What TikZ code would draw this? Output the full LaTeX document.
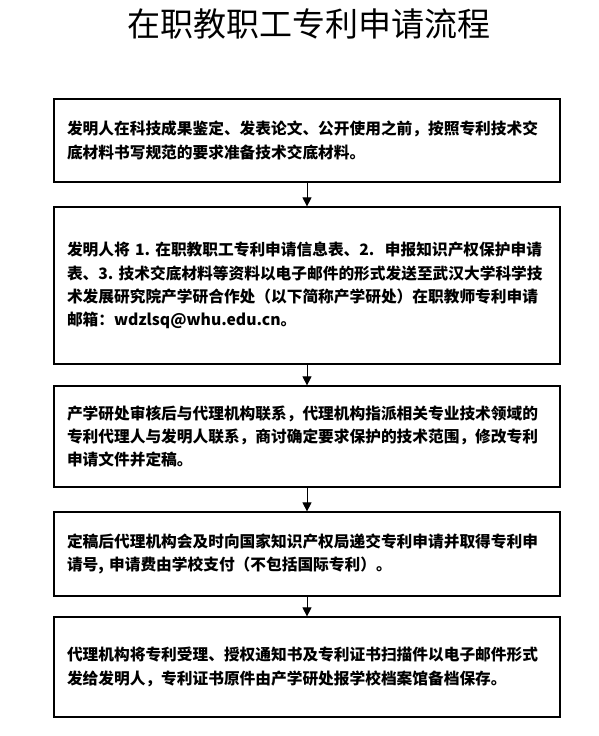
\documentclass[tikz,border=0pt]{standalone}
\usepackage{fontspec}
\newfontfamily\cjk{Noto Sans CJK SC}
\usepackage{tikz}
\usetikzlibrary{arrows.meta,positioning}

\begin{document}
\begin{tikzpicture}[x=1pt,y=-1pt,
  stepbox/.style={draw,line width=1.2pt,minimum width=506pt,inner xsep=13pt,text width=480pt,align=left,font=\cjk\bfseries\fontsize{15.7}{23.3}\selectfont},
  flowarrow/.style={-{Triangle[width=9pt,length=9pt]},line width=0.8pt}]
\useasboundingbox (0,0) rectangle (598,736);
\node[font=\cjk\fontsize{33}{33}\selectfont] (title) at (309,24) {在职教职工专利申请流程};
\node[stepbox,minimum height=83pt] (prepare) at (307,140.5) {发明人在科技成果鉴定、发表论文、公开使用之前，按照专利技术交\\底材料书写规范的要求准备技术交底材料。};
\node[stepbox,minimum height=157pt] (submit) at (307,285.5) {发明人将~1.~在职教职工专利申请信息表、2.~~申报知识产权保护申请\\表、3.~技术交底材料等资料以电子邮件的形式发送至武汉大学科学技\\术发展研究院产学研合作处（以下简称产学研处）在职教师专利申请\\邮箱：wdzlsq@whu.edu.cn。};
\node[stepbox,minimum height=101pt] (review) at (307,436.5) {产学研处审核后与代理机构联系，代理机构指派相关专业技术领域的\\专利代理人与发明人联系，商讨确定要求保护的技术范围，修改专利\\申请文件并定稿。};
\node[stepbox,minimum height=84pt] (apply) at (307,554) {定稿后代理机构会及时向国家知识产权局递交专利申请并取得专利申\\请号,~申请费由学校支付（不包括国际专利）。};
\node[stepbox,minimum height=100pt] (archive) at (307,667) {代理机构将专利受理、授权通知书及专利证书扫描件以电子邮件形式\\发给发明人，专利证书原件由产学研处报学校档案馆备档保存。};
\draw[flowarrow] (prepare) -- (submit);
\draw[flowarrow] (submit) -- (review);
\draw[flowarrow] (review) -- (apply);
\draw[flowarrow] (apply) -- (archive);
\end{tikzpicture}
\end{document}
